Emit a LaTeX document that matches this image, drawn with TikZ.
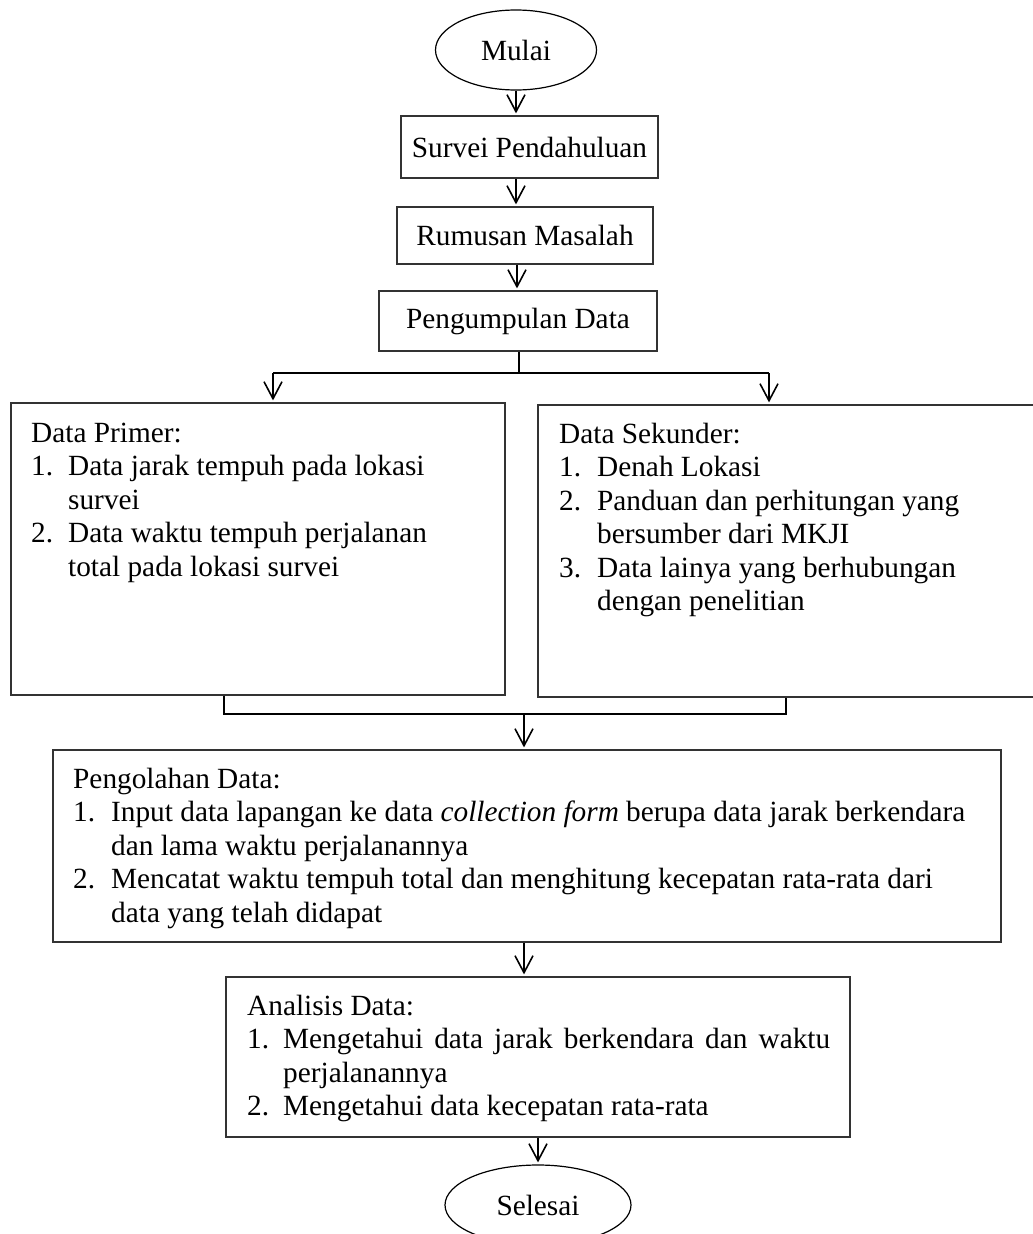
\documentclass[tikz,border=0pt]{standalone}
\usepackage{fontspec}
\setmainfont{Liberation Serif}
\usetikzlibrary{arrows.meta,shapes.geometric}
\begin{document}
\begin{tikzpicture}[x=1pt,y=-1pt,
  box/.style={draw=black!80, line width=1.2pt, rectangle, inner sep=0pt},
  oval/.style={draw=black, line width=1.2pt, ellipse, inner sep=0pt},
  conn/.style={line width=1.6pt, black},
  arr/.style={conn, -{Straight Barb[length=17pt,width=18pt]}, shorten >=2pt},
  txt/.style={inner sep=0pt, anchor=base west, align=left},
  every node/.style={font=\fontsize{29.3}{33.5}\selectfont}]
\useasboundingbox (0,0) rectangle (1033,1234);
\clip (0,0) rectangle (1033,1234);
\fill[white] (0,0) rectangle (1033,1234);

% nodes
\node[oval, minimum width=161pt, minimum height=80pt] (mulai) at (516,50) {Mulai};
\node[box, minimum width=257pt, minimum height=62pt] (survei) at (529.5,147) {Survei Pendahuluan};
\node[box, minimum width=256pt, minimum height=57pt] (rumusan) at (525,235.5) {Rumusan Masalah};
\node[box, minimum width=278pt, minimum height=60pt] (kumpul) at (518,321) {Pengumpulan Data};
\node[box, minimum width=494pt, minimum height=292pt] (primer) at (258,549) {};
\node[box, minimum width=498pt, minimum height=292pt] (sekunder) at (787,551) {};
\node[box, minimum width=948pt, minimum height=192pt] (olah) at (527,846) {};
\node[box, minimum width=624pt, minimum height=160pt] (analisis) at (538,1057) {};
\node[oval, minimum width=186pt, minimum height=80pt] (selesai) at (538,1205) {Selesai};

% texts
\node[txt] (primertxt) at (31,442) {\begin{tabular}[t]{@{}p{37pt}@{}l@{}}
\multicolumn{2}{@{}l@{}}{Data Primer:}\\
1. & Data jarak tempuh pada lokasi\\
   & survei\\
2. & Data waktu tempuh perjalanan\\
   & total pada lokasi survei
\end{tabular}};

\node[txt] (sekundertxt) at (559,443) {\begin{tabular}[t]{@{}p{38pt}@{}l@{}}
\multicolumn{2}{@{}l@{}}{Data Sekunder:}\\
1. & Denah Lokasi\\
2. & Panduan dan perhitungan yang\\
   & bersumber dari MKJI\\
3. & Data lainya yang berhubungan\\
   & dengan penelitian
\end{tabular}};

\node[txt] (olahtxt) at (73,788) {\begin{tabular}[t]{@{}p{38pt}@{}l@{}}
\multicolumn{2}{@{}l@{}}{Pengolahan Data:}\\
1. & Input data lapangan ke data \textit{collection form} berupa data jarak berkendara\\
   & dan lama waktu perjalanannya\\
2. & Mencatat waktu tempuh total dan menghitung kecepatan rata-rata dari\\
   & data yang telah didapat
\end{tabular}};

\node[txt] (analisistxt) at (247,1015) {\hyphenpenalty=10000\begin{tabular}[t]{@{}p{36pt}@{}p{547pt}@{}}
\multicolumn{2}{@{}l@{}}{Analisis Data:}\\
1. & Mengetahui data jarak berkendara dan waktu\linebreak perjalanannya\\
2. & Mengetahui data kecepatan rata-rata
\end{tabular}};

% connectors
\draw[arr] (mulai.south) -- (mulai.south |- survei.north);
\draw[arr] (mulai.south |- survei.south) -- (mulai.south |- rumusan.north);
\draw[arr] ([xshift=-8pt]rumusan.south) -- ([xshift=-8pt]rumusan.south |- kumpul.north);

\coordinate (split) at (519,373);
\coordinate (pl) at (273,373);
\coordinate (pr) at (769,373);
\draw[conn] (kumpul.south -| split) -- (split);
\draw[conn] (pl) -- (pr);
\draw[arr] (pl) -- (pl |- primer.north);
\draw[arr] (pr) -- (pr |- sekunder.north);

\coordinate (jl) at (224,714);
\coordinate (jr) at (786,714);
\coordinate (jm) at (524,714);
\draw[conn] (primer.south -| jl) -- (jl) -- (jr) -- (sekunder.south -| jr);
\draw[arr] (jm) -- (jm |- olah.north);
\draw[arr] (olah.south -| jm) -- (jm |- analisis.north);
\draw[arr] (analisis.south) -- (selesai.north);
\end{tikzpicture}
\end{document}
